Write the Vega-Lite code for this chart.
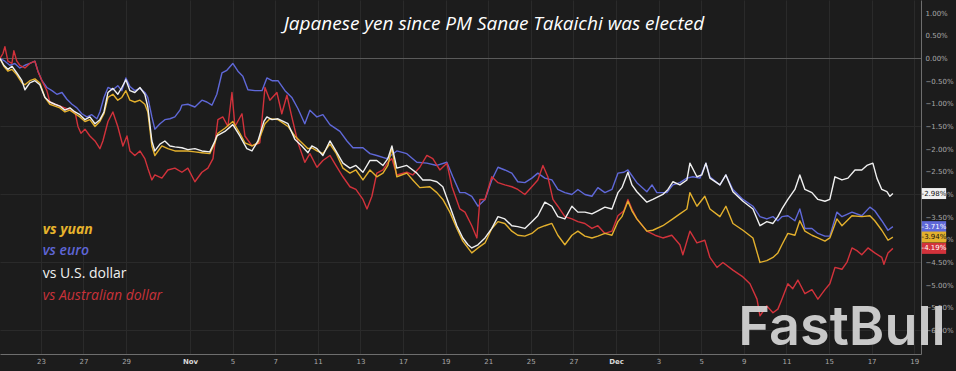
{
  "$schema": "https://vega.github.io/schema/vega-lite/v6.json",
  "width": 921,
  "height": 354,
  "autosize": {"type": "none"},
  "padding": {"left": 0, "top": 0, "right": 35, "bottom": 17},
  "background": "#1c1c1c",
  "config": {"view": {"stroke": null}},
  "datasets": {
    "series": [
      {"p":"euro","t":0.08,"v":0},{"p":"euro","t":0.31,"v":-0.06},{"p":"euro","t":0.54,"v":-0.15},{"p":"euro","t":0.78,"v":-0.11},{"p":"euro","t":1.01,"v":-0.21},{"p":"euro","t":1.25,"v":-0.15},{"p":"euro","t":1.48,"v":-0.11},{"p":"euro","t":1.72,"v":-0.06},{"p":"euro","t":1.86,"v":-0.28},{"p":"euro","t":2.05,"v":-0.49},{"p":"euro","t":2.28,"v":-0.64},{"p":"euro","t":2.52,"v":-0.71},{"p":"euro","t":2.75,"v":-0.79},{"p":"euro","t":2.99,"v":-0.75},{"p":"euro","t":3.22,"v":-0.90},{"p":"euro","t":3.46,"v":-1.01},{"p":"euro","t":3.69,"v":-1.09},{"p":"euro","t":3.92,"v":-1.22},{"p":"euro","t":4.16,"v":-1.29},{"p":"euro","t":4.39,"v":-1.24},{"p":"euro","t":4.63,"v":-1.33},{"p":"euro","t":4.77,"v":-1.18},{"p":"euro","t":4.96,"v":-0.86},{"p":"euro","t":5.15,"v":-0.64},{"p":"euro","t":5.38,"v":-0.69},{"p":"euro","t":5.61,"v":-0.60},{"p":"euro","t":5.80,"v":-0.71},{"p":"euro","t":5.99,"v":-0.43},{"p":"euro","t":6.18,"v":-0.62},{"p":"euro","t":6.41,"v":-0.71},{"p":"euro","t":6.65,"v":-0.66},{"p":"euro","t":6.88,"v":-0.75},{"p":"euro","t":7.02,"v":-0.86},{"p":"euro","t":7.21,"v":-1.29},{"p":"euro","t":7.35,"v":-1.56},{"p":"euro","t":7.59,"v":-1.44},{"p":"euro","t":7.82,"v":-1.35},{"p":"euro","t":8.06,"v":-1.33},{"p":"euro","t":8.29,"v":-1.29},{"p":"euro","t":8.53,"v":-1.14},{"p":"euro","t":8.62,"v":-1.03},{"p":"euro","t":8.90,"v":-1.01},{"p":"euro","t":9.23,"v":-1.07},{"p":"euro","t":9.56,"v":-0.92},{"p":"euro","t":9.79,"v":-0.96},{"p":"euro","t":10.03,"v":-1.03},{"p":"euro","t":10.26,"v":-0.79},{"p":"euro","t":10.50,"v":-0.32},{"p":"euro","t":10.73,"v":-0.26},{"p":"euro","t":11.01,"v":-0.11},{"p":"euro","t":11.25,"v":-0.28},{"p":"euro","t":11.48,"v":-0.39},{"p":"euro","t":11.72,"v":-0.69},{"p":"euro","t":12.05,"v":-0.71},{"p":"euro","t":12.38,"v":-0.71},{"p":"euro","t":12.61,"v":-0.43},{"p":"euro","t":12.85,"v":-0.49},{"p":"euro","t":13.13,"v":-0.49},{"p":"euro","t":13.46,"v":-0.71},{"p":"euro","t":13.78,"v":-0.86},{"p":"euro","t":14.07,"v":-1.11},{"p":"euro","t":14.39,"v":-1.44},{"p":"euro","t":14.63,"v":-1.14},{"p":"euro","t":14.96,"v":-1.29},{"p":"euro","t":15.24,"v":-1.24},{"p":"euro","t":15.57,"v":-1.46},{"p":"euro","t":16.04,"v":-1.61},{"p":"euro","t":16.37,"v":-1.82},{"p":"euro","t":16.65,"v":-1.97},{"p":"euro","t":17.12,"v":-1.97},{"p":"euro","t":17.45,"v":-2.10},{"p":"euro","t":17.77,"v":-2.14},{"p":"euro","t":18.24,"v":-2.21},{"p":"euro","t":18.71,"v":-2.04},{"p":"euro","t":19.18,"v":-2.10},{"p":"euro","t":19.65,"v":-2.29},{"p":"euro","t":20.12,"v":-2.31},{"p":"euro","t":20.59,"v":-2.36},{"p":"euro","t":21.06,"v":-2.29},{"p":"euro","t":21.34,"v":-2.61},{"p":"euro","t":21.67,"v":-2.96},{"p":"euro","t":21.91,"v":-2.96},{"p":"euro","t":22.23,"v":-3.04},{"p":"euro","t":22.52,"v":-3.26},{"p":"euro","t":22.85,"v":-3.11},{"p":"euro","t":23.17,"v":-2.68},{"p":"euro","t":23.46,"v":-2.40},{"p":"euro","t":23.78,"v":-2.46},{"p":"euro","t":24.11,"v":-2.53},{"p":"euro","t":24.39,"v":-2.72},{"p":"euro","t":24.72,"v":-2.74},{"p":"euro","t":25.05,"v":-2.64},{"p":"euro","t":25.33,"v":-2.53},{"p":"euro","t":25.66,"v":-2.64},{"p":"euro","t":25.99,"v":-2.68},{"p":"euro","t":26.27,"v":-2.89},{"p":"euro","t":26.60,"v":-2.96},{"p":"euro","t":26.93,"v":-3.00},{"p":"euro","t":27.21,"v":-2.89},{"p":"euro","t":27.54,"v":-3.00},{"p":"euro","t":27.87,"v":-3.04},{"p":"euro","t":28.15,"v":-2.85},{"p":"euro","t":28.48,"v":-2.96},{"p":"euro","t":28.81,"v":-2.89},{"p":"euro","t":29.09,"v":-2.53},{"p":"euro","t":29.37,"v":-2.51},{"p":"euro","t":29.56,"v":-2.46},{"p":"euro","t":29.98,"v":-2.74},{"p":"euro","t":30.45,"v":-2.94},{"p":"euro","t":30.69,"v":-2.79},{"p":"euro","t":30.92,"v":-2.96},{"p":"euro","t":31.39,"v":-2.96},{"p":"euro","t":31.67,"v":-2.79},{"p":"euro","t":32.00,"v":-2.74},{"p":"euro","t":32.33,"v":-2.64},{"p":"euro","t":32.61,"v":-2.61},{"p":"euro","t":32.94,"v":-2.64},{"p":"euro","t":33.22,"v":-2.31},{"p":"euro","t":33.41,"v":-2.61},{"p":"euro","t":33.88,"v":-2.79},{"p":"euro","t":34.16,"v":-2.57},{"p":"euro","t":34.49,"v":-2.89},{"p":"euro","t":34.96,"v":-3.11},{"p":"euro","t":35.43,"v":-3.26},{"p":"euro","t":35.76,"v":-3.49},{"p":"euro","t":36.08,"v":-3.54},{"p":"euro","t":36.37,"v":-3.49},{"p":"euro","t":36.60,"v":-3.58},{"p":"euro","t":36.79,"v":-3.49},{"p":"euro","t":37.07,"v":-3.47},{"p":"euro","t":37.40,"v":-3.58},{"p":"euro","t":37.63,"v":-3.32},{"p":"euro","t":37.87,"v":-3.75},{"p":"euro","t":38.20,"v":-3.75},{"p":"euro","t":38.48,"v":-3.86},{"p":"euro","t":38.81,"v":-3.92},{"p":"euro","t":39.04,"v":-3.92},{"p":"euro","t":39.37,"v":-3.39},{"p":"euro","t":39.61,"v":-3.49},{"p":"euro","t":40.08,"v":-3.39},{"p":"euro","t":40.54,"v":-3.47},{"p":"euro","t":40.92,"v":-3.28},{"p":"euro","t":41.15,"v":-3.36},{"p":"euro","t":41.48,"v":-3.58},{"p":"euro","t":41.77,"v":-3.79},{"p":"euro","t":42.00,"v":-3.71},

      {"p":"aud","t":0.08,"v":0},{"p":"aud","t":0.22,"v":0.11},{"p":"aud","t":0.31,"v":0.26},{"p":"aud","t":0.45,"v":-0.06},{"p":"aud","t":0.64,"v":-0.11},{"p":"aud","t":0.73,"v":0.17},{"p":"aud","t":0.87,"v":-0.06},{"p":"aud","t":1.01,"v":-0.15},{"p":"aud","t":1.25,"v":-0.21},{"p":"aud","t":1.48,"v":-0.11},{"p":"aud","t":1.72,"v":-0.06},{"p":"aud","t":1.86,"v":-0.28},{"p":"aud","t":2.05,"v":-0.49},{"p":"aud","t":2.28,"v":-0.71},{"p":"aud","t":2.42,"v":-0.96},{"p":"aud","t":2.66,"v":-1.01},{"p":"aud","t":2.89,"v":-1.05},{"p":"aud","t":3.13,"v":-1.09},{"p":"aud","t":3.36,"v":-1.14},{"p":"aud","t":3.60,"v":-1.18},{"p":"aud","t":3.74,"v":-1.50},{"p":"aud","t":3.88,"v":-1.65},{"p":"aud","t":4.07,"v":-1.56},{"p":"aud","t":4.30,"v":-1.71},{"p":"aud","t":4.54,"v":-1.82},{"p":"aud","t":4.77,"v":-1.99},{"p":"aud","t":4.91,"v":-1.82},{"p":"aud","t":5.15,"v":-1.39},{"p":"aud","t":5.38,"v":-1.18},{"p":"aud","t":5.61,"v":-1.50},{"p":"aud","t":5.85,"v":-1.93},{"p":"aud","t":6.04,"v":-1.71},{"p":"aud","t":6.18,"v":-2.04},{"p":"aud","t":6.41,"v":-2.14},{"p":"aud","t":6.65,"v":-2.04},{"p":"aud","t":6.88,"v":-2.21},{"p":"aud","t":7.02,"v":-2.42},{"p":"aud","t":7.21,"v":-2.68},{"p":"aud","t":7.35,"v":-2.57},{"p":"aud","t":7.68,"v":-2.64},{"p":"aud","t":7.96,"v":-2.46},{"p":"aud","t":8.29,"v":-2.42},{"p":"aud","t":8.62,"v":-2.51},{"p":"aud","t":8.90,"v":-2.42},{"p":"aud","t":9.23,"v":-2.72},{"p":"aud","t":9.56,"v":-2.51},{"p":"aud","t":9.84,"v":-2.42},{"p":"aud","t":10.08,"v":-2.21},{"p":"aud","t":10.31,"v":-1.35},{"p":"aud","t":10.54,"v":-1.29},{"p":"aud","t":10.78,"v":-1.50},{"p":"aud","t":10.97,"v":-0.75},{"p":"aud","t":11.11,"v":-1.50},{"p":"aud","t":11.44,"v":-1.22},{"p":"aud","t":11.58,"v":-1.71},{"p":"aud","t":11.91,"v":-1.93},{"p":"aud","t":12.28,"v":-1.86},{"p":"aud","t":12.52,"v":-0.64},{"p":"aud","t":12.75,"v":-0.92},{"p":"aud","t":13.08,"v":-0.75},{"p":"aud","t":13.31,"v":-1.22},{"p":"aud","t":13.55,"v":-0.81},{"p":"aud","t":13.78,"v":-1.29},{"p":"aud","t":14.07,"v":-1.86},{"p":"aud","t":14.39,"v":-2.29},{"p":"aud","t":14.63,"v":-2.10},{"p":"aud","t":14.96,"v":-2.40},{"p":"aud","t":15.24,"v":-2.25},{"p":"aud","t":15.57,"v":-2.14},{"p":"aud","t":15.85,"v":-2.36},{"p":"aud","t":16.18,"v":-2.61},{"p":"aud","t":16.51,"v":-2.83},{"p":"aud","t":16.79,"v":-2.89},{"p":"aud","t":17.12,"v":-3.11},{"p":"aud","t":17.31,"v":-3.32},{"p":"aud","t":17.54,"v":-3.04},{"p":"aud","t":17.77,"v":-2.53},{"p":"aud","t":18.06,"v":-2.46},{"p":"aud","t":18.29,"v":-2.29},{"p":"aud","t":18.48,"v":-2.21},{"p":"aud","t":18.71,"v":-2.57},{"p":"aud","t":19.18,"v":-2.51},{"p":"aud","t":19.46,"v":-2.57},{"p":"aud","t":19.79,"v":-2.40},{"p":"aud","t":20.12,"v":-2.14},{"p":"aud","t":20.40,"v":-2.21},{"p":"aud","t":20.73,"v":-2.46},{"p":"aud","t":21.06,"v":-2.31},{"p":"aud","t":21.30,"v":-2.83},{"p":"aud","t":21.67,"v":-3.32},{"p":"aud","t":21.91,"v":-3.39},{"p":"aud","t":22.23,"v":-3.69},{"p":"aud","t":22.47,"v":-3.96},{"p":"aud","t":22.61,"v":-3.11},{"p":"aud","t":22.85,"v":-3.11},{"p":"aud","t":23.17,"v":-2.61},{"p":"aud","t":23.46,"v":-2.74},{"p":"aud","t":23.78,"v":-2.79},{"p":"aud","t":24.11,"v":-2.83},{"p":"aud","t":24.39,"v":-2.89},{"p":"aud","t":24.72,"v":-3.00},{"p":"aud","t":25.05,"v":-2.83},{"p":"aud","t":25.33,"v":-2.68},{"p":"aud","t":25.57,"v":-2.36},{"p":"aud","t":25.80,"v":-2.61},{"p":"aud","t":26.04,"v":-3.11},{"p":"aud","t":26.27,"v":-3.26},{"p":"aud","t":26.60,"v":-3.49},{"p":"aud","t":26.93,"v":-3.54},{"p":"aud","t":27.21,"v":-3.60},{"p":"aud","t":27.54,"v":-3.64},{"p":"aud","t":27.87,"v":-3.75},{"p":"aud","t":28.15,"v":-3.69},{"p":"aud","t":28.48,"v":-3.86},{"p":"aud","t":28.81,"v":-3.81},{"p":"aud","t":29.09,"v":-3.47},{"p":"aud","t":29.37,"v":-3.36},{"p":"aud","t":29.56,"v":-3.11},{"p":"aud","t":29.75,"v":-3.32},{"p":"aud","t":29.98,"v":-3.54},{"p":"aud","t":30.45,"v":-3.81},{"p":"aud","t":30.83,"v":-3.90},{"p":"aud","t":31.20,"v":-3.96},{"p":"aud","t":31.62,"v":-3.90},{"p":"aud","t":32.00,"v":-4.11},{"p":"aud","t":32.14,"v":-4.33},{"p":"aud","t":32.47,"v":-3.81},{"p":"aud","t":32.80,"v":-4.07},{"p":"aud","t":33.17,"v":-4.01},{"p":"aud","t":33.41,"v":-4.39},{"p":"aud","t":33.74,"v":-4.61},{"p":"aud","t":34.02,"v":-4.50},{"p":"aud","t":34.49,"v":-4.67},{"p":"aud","t":34.96,"v":-4.82},{"p":"aud","t":35.29,"v":-4.97},{"p":"aud","t":35.62,"v":-5.31},{"p":"aud","t":35.76,"v":-5.68},{"p":"aud","t":36.08,"v":-5.46},{"p":"aud","t":36.37,"v":-5.61},{"p":"aud","t":36.60,"v":-5.53},{"p":"aud","t":36.79,"v":-5.31},{"p":"aud","t":37.07,"v":-4.97},{"p":"aud","t":37.30,"v":-5.08},{"p":"aud","t":37.54,"v":-4.89},{"p":"aud","t":37.87,"v":-5.19},{"p":"aud","t":38.20,"v":-5.10},{"p":"aud","t":38.48,"v":-5.31},{"p":"aud","t":38.81,"v":-5.10},{"p":"aud","t":39.04,"v":-4.97},{"p":"aud","t":39.28,"v":-4.61},{"p":"aud","t":39.61,"v":-4.65},{"p":"aud","t":39.84,"v":-4.50},{"p":"aud","t":40.08,"v":-4.18},{"p":"aud","t":40.31,"v":-4.24},{"p":"aud","t":40.54,"v":-4.33},{"p":"aud","t":40.83,"v":-4.18},{"p":"aud","t":41.15,"v":-4.29},{"p":"aud","t":41.48,"v":-4.39},{"p":"aud","t":41.58,"v":-4.54},{"p":"aud","t":41.77,"v":-4.29},{"p":"aud","t":42.00,"v":-4.19},

      {"p":"yuan","t":0.08,"v":0},{"p":"yuan","t":0.26,"v":-0.17},{"p":"yuan","t":0.45,"v":-0.28},{"p":"yuan","t":0.64,"v":-0.24},{"p":"yuan","t":0.87,"v":-0.36},{"p":"yuan","t":1.11,"v":-0.54},{"p":"yuan","t":1.25,"v":-0.58},{"p":"yuan","t":1.48,"v":-0.49},{"p":"yuan","t":1.72,"v":-0.45},{"p":"yuan","t":1.95,"v":-0.54},{"p":"yuan","t":2.19,"v":-0.86},{"p":"yuan","t":2.42,"v":-1.01},{"p":"yuan","t":2.66,"v":-1.05},{"p":"yuan","t":2.89,"v":-1.09},{"p":"yuan","t":3.13,"v":-1.18},{"p":"yuan","t":3.36,"v":-1.14},{"p":"yuan","t":3.60,"v":-1.22},{"p":"yuan","t":3.83,"v":-1.29},{"p":"yuan","t":4.07,"v":-1.39},{"p":"yuan","t":4.30,"v":-1.35},{"p":"yuan","t":4.54,"v":-1.50},{"p":"yuan","t":4.77,"v":-1.39},{"p":"yuan","t":4.96,"v":-1.22},{"p":"yuan","t":5.15,"v":-0.86},{"p":"yuan","t":5.38,"v":-0.79},{"p":"yuan","t":5.61,"v":-0.92},{"p":"yuan","t":5.80,"v":-0.86},{"p":"yuan","t":5.99,"v":-0.71},{"p":"yuan","t":6.18,"v":-0.92},{"p":"yuan","t":6.41,"v":-0.96},{"p":"yuan","t":6.65,"v":-0.92},{"p":"yuan","t":6.88,"v":-1.01},{"p":"yuan","t":7.02,"v":-1.18},{"p":"yuan","t":7.21,"v":-1.93},{"p":"yuan","t":7.35,"v":-2.14},{"p":"yuan","t":7.68,"v":-1.93},{"p":"yuan","t":7.96,"v":-1.99},{"p":"yuan","t":8.29,"v":-2.04},{"p":"yuan","t":8.90,"v":-2.04},{"p":"yuan","t":9.23,"v":-2.06},{"p":"yuan","t":9.56,"v":-2.08},{"p":"yuan","t":9.93,"v":-2.10},{"p":"yuan","t":10.17,"v":-1.86},{"p":"yuan","t":10.31,"v":-1.65},{"p":"yuan","t":10.64,"v":-1.54},{"p":"yuan","t":11.01,"v":-1.39},{"p":"yuan","t":11.34,"v":-1.65},{"p":"yuan","t":11.58,"v":-1.86},{"p":"yuan","t":11.91,"v":-1.93},{"p":"yuan","t":12.19,"v":-1.86},{"p":"yuan","t":12.52,"v":-1.44},{"p":"yuan","t":12.75,"v":-1.33},{"p":"yuan","t":13.13,"v":-1.35},{"p":"yuan","t":13.60,"v":-1.50},{"p":"yuan","t":13.92,"v":-1.71},{"p":"yuan","t":14.25,"v":-1.86},{"p":"yuan","t":14.54,"v":-1.99},{"p":"yuan","t":14.72,"v":-1.97},{"p":"yuan","t":14.96,"v":-2.04},{"p":"yuan","t":15.24,"v":-2.10},{"p":"yuan","t":15.57,"v":-1.89},{"p":"yuan","t":15.85,"v":-2.08},{"p":"yuan","t":16.18,"v":-2.42},{"p":"yuan","t":16.51,"v":-2.53},{"p":"yuan","t":16.79,"v":-2.46},{"p":"yuan","t":17.12,"v":-2.68},{"p":"yuan","t":17.45,"v":-2.46},{"p":"yuan","t":17.77,"v":-2.61},{"p":"yuan","t":18.06,"v":-2.53},{"p":"yuan","t":18.29,"v":-2.36},{"p":"yuan","t":18.48,"v":-1.97},{"p":"yuan","t":18.71,"v":-2.61},{"p":"yuan","t":19.18,"v":-2.53},{"p":"yuan","t":19.46,"v":-2.68},{"p":"yuan","t":19.79,"v":-2.85},{"p":"yuan","t":20.26,"v":-2.83},{"p":"yuan","t":20.59,"v":-2.96},{"p":"yuan","t":20.87,"v":-3.11},{"p":"yuan","t":21.20,"v":-3.39},{"p":"yuan","t":21.53,"v":-3.75},{"p":"yuan","t":21.81,"v":-4.03},{"p":"yuan","t":22.05,"v":-4.18},{"p":"yuan","t":22.23,"v":-4.29},{"p":"yuan","t":22.52,"v":-4.18},{"p":"yuan","t":22.85,"v":-4.07},{"p":"yuan","t":23.17,"v":-3.75},{"p":"yuan","t":23.46,"v":-3.60},{"p":"yuan","t":23.78,"v":-3.64},{"p":"yuan","t":24.11,"v":-3.81},{"p":"yuan","t":24.39,"v":-3.90},{"p":"yuan","t":24.72,"v":-3.92},{"p":"yuan","t":25.05,"v":-3.86},{"p":"yuan","t":25.33,"v":-3.75},{"p":"yuan","t":25.66,"v":-3.69},{"p":"yuan","t":25.99,"v":-3.64},{"p":"yuan","t":26.27,"v":-3.90},{"p":"yuan","t":26.60,"v":-4.11},{"p":"yuan","t":26.93,"v":-3.90},{"p":"yuan","t":27.21,"v":-3.81},{"p":"yuan","t":27.54,"v":-3.92},{"p":"yuan","t":27.87,"v":-3.96},{"p":"yuan","t":28.15,"v":-3.92},{"p":"yuan","t":28.48,"v":-3.86},{"p":"yuan","t":28.81,"v":-3.90},{"p":"yuan","t":29.09,"v":-3.60},{"p":"yuan","t":29.28,"v":-3.49},{"p":"yuan","t":29.56,"v":-3.15},{"p":"yuan","t":29.75,"v":-3.36},{"p":"yuan","t":29.98,"v":-3.54},{"p":"yuan","t":30.45,"v":-3.81},{"p":"yuan","t":30.73,"v":-3.79},{"p":"yuan","t":31.20,"v":-3.69},{"p":"yuan","t":31.67,"v":-3.54},{"p":"yuan","t":32.00,"v":-3.43},{"p":"yuan","t":32.33,"v":-3.32},{"p":"yuan","t":32.47,"v":-2.96},{"p":"yuan","t":32.80,"v":-3.26},{"p":"yuan","t":33.17,"v":-3.04},{"p":"yuan","t":33.41,"v":-3.32},{"p":"yuan","t":33.88,"v":-3.49},{"p":"yuan","t":34.16,"v":-3.26},{"p":"yuan","t":34.49,"v":-3.64},{"p":"yuan","t":34.96,"v":-3.79},{"p":"yuan","t":35.43,"v":-3.96},{"p":"yuan","t":35.76,"v":-4.50},{"p":"yuan","t":36.08,"v":-4.46},{"p":"yuan","t":36.37,"v":-4.39},{"p":"yuan","t":36.60,"v":-4.29},{"p":"yuan","t":36.79,"v":-4.11},{"p":"yuan","t":37.07,"v":-3.86},{"p":"yuan","t":37.40,"v":-3.90},{"p":"yuan","t":37.63,"v":-3.58},{"p":"yuan","t":37.87,"v":-3.81},{"p":"yuan","t":38.20,"v":-3.90},{"p":"yuan","t":38.48,"v":-3.96},{"p":"yuan","t":38.81,"v":-4.03},{"p":"yuan","t":39.04,"v":-3.96},{"p":"yuan","t":39.37,"v":-3.54},{"p":"yuan","t":39.61,"v":-3.69},{"p":"yuan","t":40.08,"v":-3.47},{"p":"yuan","t":40.54,"v":-3.49},{"p":"yuan","t":40.92,"v":-3.47},{"p":"yuan","t":41.15,"v":-3.58},{"p":"yuan","t":41.48,"v":-3.79},{"p":"yuan","t":41.77,"v":-4.01},{"p":"yuan","t":42.00,"v":-3.94},

      {"p":"usd","t":0.08,"v":0},{"p":"usd","t":0.26,"v":-0.15},{"p":"usd","t":0.45,"v":-0.24},{"p":"usd","t":0.64,"v":-0.17},{"p":"usd","t":0.87,"v":-0.32},{"p":"usd","t":1.11,"v":-0.49},{"p":"usd","t":1.25,"v":-0.69},{"p":"usd","t":1.48,"v":-0.54},{"p":"usd","t":1.72,"v":-0.49},{"p":"usd","t":1.95,"v":-0.58},{"p":"usd","t":2.19,"v":-0.86},{"p":"usd","t":2.42,"v":-0.96},{"p":"usd","t":2.66,"v":-1.01},{"p":"usd","t":2.89,"v":-1.05},{"p":"usd","t":3.13,"v":-1.14},{"p":"usd","t":3.36,"v":-1.09},{"p":"usd","t":3.60,"v":-1.18},{"p":"usd","t":3.83,"v":-1.24},{"p":"usd","t":4.07,"v":-1.35},{"p":"usd","t":4.30,"v":-1.29},{"p":"usd","t":4.54,"v":-1.44},{"p":"usd","t":4.77,"v":-1.35},{"p":"usd","t":4.96,"v":-1.18},{"p":"usd","t":5.15,"v":-0.75},{"p":"usd","t":5.38,"v":-0.66},{"p":"usd","t":5.61,"v":-0.79},{"p":"usd","t":5.80,"v":-0.64},{"p":"usd","t":5.99,"v":-0.47},{"p":"usd","t":6.18,"v":-0.71},{"p":"usd","t":6.41,"v":-0.75},{"p":"usd","t":6.65,"v":-0.64},{"p":"usd","t":6.88,"v":-0.79},{"p":"usd","t":7.02,"v":-1.07},{"p":"usd","t":7.21,"v":-1.82},{"p":"usd","t":7.35,"v":-2.04},{"p":"usd","t":7.59,"v":-1.89},{"p":"usd","t":7.82,"v":-1.82},{"p":"usd","t":8.06,"v":-1.93},{"p":"usd","t":8.29,"v":-1.95},{"p":"usd","t":8.62,"v":-1.97},{"p":"usd","t":8.90,"v":-2.01},{"p":"usd","t":9.23,"v":-1.99},{"p":"usd","t":9.56,"v":-2.04},{"p":"usd","t":9.93,"v":-2.06},{"p":"usd","t":10.17,"v":-1.82},{"p":"usd","t":10.26,"v":-1.71},{"p":"usd","t":10.64,"v":-1.61},{"p":"usd","t":11.01,"v":-1.46},{"p":"usd","t":11.34,"v":-1.71},{"p":"usd","t":11.67,"v":-1.99},{"p":"usd","t":11.91,"v":-2.04},{"p":"usd","t":12.19,"v":-1.82},{"p":"usd","t":12.47,"v":-1.39},{"p":"usd","t":12.61,"v":-1.29},{"p":"usd","t":12.85,"v":-1.35},{"p":"usd","t":13.13,"v":-1.33},{"p":"usd","t":13.60,"v":-1.44},{"p":"usd","t":13.92,"v":-1.78},{"p":"usd","t":14.25,"v":-1.93},{"p":"usd","t":14.54,"v":-2.08},{"p":"usd","t":14.72,"v":-1.93},{"p":"usd","t":14.96,"v":-1.99},{"p":"usd","t":15.24,"v":-2.14},{"p":"usd","t":15.57,"v":-1.82},{"p":"usd","t":15.85,"v":-2.04},{"p":"usd","t":16.18,"v":-2.31},{"p":"usd","t":16.51,"v":-2.42},{"p":"usd","t":16.79,"v":-2.36},{"p":"usd","t":17.12,"v":-2.51},{"p":"usd","t":17.45,"v":-2.25},{"p":"usd","t":17.77,"v":-2.25},{"p":"usd","t":18.06,"v":-2.36},{"p":"usd","t":18.29,"v":-2.21},{"p":"usd","t":18.48,"v":-1.93},{"p":"usd","t":18.71,"v":-2.42},{"p":"usd","t":19.18,"v":-2.36},{"p":"usd","t":19.65,"v":-2.53},{"p":"usd","t":19.93,"v":-2.68},{"p":"usd","t":20.26,"v":-2.68},{"p":"usd","t":20.59,"v":-2.72},{"p":"usd","t":20.87,"v":-2.83},{"p":"usd","t":21.20,"v":-3.26},{"p":"usd","t":21.53,"v":-3.69},{"p":"usd","t":21.81,"v":-3.96},{"p":"usd","t":22.05,"v":-4.11},{"p":"usd","t":22.23,"v":-4.18},{"p":"usd","t":22.52,"v":-4.11},{"p":"usd","t":22.85,"v":-3.96},{"p":"usd","t":23.17,"v":-3.75},{"p":"usd","t":23.46,"v":-3.49},{"p":"usd","t":23.78,"v":-3.54},{"p":"usd","t":24.11,"v":-3.69},{"p":"usd","t":24.39,"v":-3.71},{"p":"usd","t":24.72,"v":-3.75},{"p":"usd","t":25.05,"v":-3.60},{"p":"usd","t":25.33,"v":-3.47},{"p":"usd","t":25.66,"v":-3.17},{"p":"usd","t":25.99,"v":-3.26},{"p":"usd","t":26.27,"v":-3.49},{"p":"usd","t":26.60,"v":-3.54},{"p":"usd","t":26.93,"v":-3.26},{"p":"usd","t":27.21,"v":-3.39},{"p":"usd","t":27.54,"v":-3.39},{"p":"usd","t":27.87,"v":-3.43},{"p":"usd","t":28.15,"v":-3.36},{"p":"usd","t":28.48,"v":-3.28},{"p":"usd","t":28.81,"v":-3.32},{"p":"usd","t":29.09,"v":-2.96},{"p":"usd","t":29.28,"v":-2.85},{"p":"usd","t":29.56,"v":-2.51},{"p":"usd","t":29.75,"v":-2.79},{"p":"usd","t":29.98,"v":-2.94},{"p":"usd","t":30.45,"v":-3.17},{"p":"usd","t":30.73,"v":-3.11},{"p":"usd","t":31.20,"v":-3.00},{"p":"usd","t":31.44,"v":-2.89},{"p":"usd","t":31.67,"v":-2.72},{"p":"usd","t":32.00,"v":-2.79},{"p":"usd","t":32.33,"v":-2.68},{"p":"usd","t":32.47,"v":-2.31},{"p":"usd","t":32.80,"v":-2.61},{"p":"usd","t":33.03,"v":-2.57},{"p":"usd","t":33.22,"v":-2.31},{"p":"usd","t":33.41,"v":-2.64},{"p":"usd","t":33.88,"v":-2.79},{"p":"usd","t":34.16,"v":-2.57},{"p":"usd","t":34.49,"v":-2.94},{"p":"usd","t":34.96,"v":-3.15},{"p":"usd","t":35.43,"v":-3.32},{"p":"usd","t":35.76,"v":-3.69},{"p":"usd","t":36.08,"v":-3.60},{"p":"usd","t":36.37,"v":-3.64},{"p":"usd","t":36.60,"v":-3.49},{"p":"usd","t":36.79,"v":-3.32},{"p":"usd","t":37.07,"v":-3.11},{"p":"usd","t":37.40,"v":-2.89},{"p":"usd","t":37.63,"v":-2.57},{"p":"usd","t":37.87,"v":-2.89},{"p":"usd","t":38.20,"v":-2.96},{"p":"usd","t":38.48,"v":-3.11},{"p":"usd","t":38.81,"v":-3.15},{"p":"usd","t":39.04,"v":-3.11},{"p":"usd","t":39.28,"v":-2.61},{"p":"usd","t":39.61,"v":-2.68},{"p":"usd","t":39.89,"v":-2.64},{"p":"usd","t":40.22,"v":-2.46},{"p":"usd","t":40.54,"v":-2.46},{"p":"usd","t":40.78,"v":-2.36},{"p":"usd","t":41.06,"v":-2.31},{"p":"usd","t":41.25,"v":-2.64},{"p":"usd","t":41.48,"v":-2.89},{"p":"usd","t":41.72,"v":-2.94},{"p":"usd","t":41.86,"v":-3.04},{"p":"usd","t":42.00,"v":-2.98}
    ],
    "badges": [
      {"p":"usd","last":-2.98,"lab":"-2.98%"},
      {"p":"euro","last":-3.71,"lab":"-3.71%"},
      {"p":"yuan","last":-3.94,"lab":"-3.94%"},
      {"p":"aud","last":-4.19,"lab":"-4.19%"}
    ]
  },
  "layer": [
    {
      "data": {"name": "series"},
      "mark": {"type": "line", "strokeWidth": 1.4, "strokeJoin": "round", "clip": true},
      "encoding": {
        "x": {
          "field": "t", "type": "quantitative", "title": null,
          "scale": {"domain": [0.08, 43.32], "nice": false, "zero": false},
          "axis": {
            "orient": "bottom",
            "values": [2,4,6,9,11,13,15,17,19,21,23,25,27,29,31,33,35,37,39,41,43],
            "labelExpr": "['23','27','29','Nov','5','7','11','13','17','19','21','25','27','Dec','3','5','9','11','15','17','19'][indexof([2,4,6,9,11,13,15,17,19,21,23,25,27,29,31,33,35,37,39,41,43], datum.value)]",
            "labelFont": "DejaVu Sans",
            "labelFontSize": 7,
            "labelColor": {"condition": {"test": "datum.value == 9 || datum.value == 29", "value": "#d8d8d8"}, "value": "#a8a8a8"},
            "labelFontWeight": {"condition": {"test": "datum.value == 9 || datum.value == 29", "value": "bold"}, "value": "normal"},
            "labelPadding": 3,
            "ticks": false,
            "grid": true,
            "gridColor": "#2a2a2a",
            "gridWidth": 1,
            "domain": true,
            "domainColor": "#6e6e6e",
            "labelOverlap": false,
            "zindex": 0
          }
        },
        "y": {
          "field": "v", "type": "quantitative", "title": null,
          "scale": {"domain": [-6.41, 1.18], "nice": false, "zero": false},
          "axis": {
            "orient": "right",
            "values": [1,0.5,0,-0.5,-1,-1.5,-2,-2.5,-3,-3.5,-4,-4.5,-5,-5.5,-6],
            "tickCount": 15,
            "labelExpr": "format(datum.value, '.2f') + '%'",
            "labelFont": "DejaVu Sans",
            "labelFontSize": 7,
            "labelColor": "#a8a8a8",
            "labelPadding": 4,
            "ticks": false,
            "grid": true,
            "gridColor": {"condition": {"test": "datum.value == 0", "value": "#5a5a5a"}, "value": "#2a2a2a"},
            "gridOpacity": {"condition": {"test": "datum.value % 1.5 == 0", "value": 1}, "value": 0},
            "domain": true,
            "domainColor": "#6e6e6e",
            "labelOverlap": false,
            "labelBound": false,
            "zindex": 0
          }
        },
        "color": {
          "field": "p", "type": "nominal", "legend": null,
          "scale": {"domain": ["euro","aud","yuan","usd"], "range": ["#5f68d8","#d2323b","#e3b02d","#f0f0f0"]}
        }
      }
    },
    {
      "data": {"name": "badges"},
      "mark": {"type": "bar", "orient": "horizontal", "size": 11},
      "encoding": {
        "x": {"datum": 43.36, "type": "quantitative", "title": null},
        "x2": {"datum": 44.5},
        "y": {"field": "last", "type": "quantitative", "title": null, "axis": {"values": [1,0.5,0,-0.5,-1,-1.5,-2,-2.5,-3,-3.5,-4,-4.5,-5,-5.5,-6], "tickCount": 15}},
        "color": {"field": "p", "type": "nominal", "legend": null}
      }
    },
    {
      "data": {"name": "badges"},
      "mark": {"type": "text", "font": "DejaVu Sans", "fontSize": 7, "align": "center", "baseline": "middle"},
      "encoding": {
        "x": {"datum": 43.93, "type": "quantitative", "title": null},
        "y": {"field": "last", "type": "quantitative", "title": null, "axis": {"values": [1,0.5,0,-0.5,-1,-1.5,-2,-2.5,-3,-3.5,-4,-4.5,-5,-5.5,-6], "tickCount": 15}},
        "text": {"field": "lab"},
        "color": {"condition": {"test": "datum.p == 'usd' || datum.p == 'yuan'", "value": "#111111"}, "value": "#ffffff"}
      }
    },
    {
      "data": {"values": [{"txt": "Japanese yen since PM Sanae Takaichi was elected"}]},
      "mark": {"type": "text", "font": "Open Sans", "fontStyle": "italic", "fontSize": 19, "color": "#ffffff", "align": "center", "baseline": "middle"},
      "encoding": {
        "x": {"datum": 23.27, "type": "quantitative", "title": null},
        "y": {"datum": 0.75, "type": "quantitative", "title": null},
        "text": {"field": "txt"}
      }
    },
    {
      "data": {"values": [{"txt": "vs yuan"}]},
      "mark": {"type": "text", "font": "Open Sans", "fontStyle": "italic", "fontWeight": "bold", "fontSize": 14, "color": "#e6b32c", "align": "left", "baseline": "middle"},
      "encoding": {
        "x": {"datum": 2.09, "type": "quantitative", "title": null},
        "y": {"datum": -3.79, "type": "quantitative", "title": null},
        "text": {"field": "txt"}
      }
    },
    {
      "data": {"values": [{"txt": "vs euro"}]},
      "mark": {"type": "text", "font": "Open Sans", "fontStyle": "italic", "fontWeight": 600, "fontSize": 14, "color": "#5f66d6", "align": "left", "baseline": "middle"},
      "encoding": {
        "x": {"datum": 2.09, "type": "quantitative", "title": null},
        "y": {"datum": -4.24, "type": "quantitative", "title": null},
        "text": {"field": "txt"}
      }
    },
    {
      "data": {"values": [{"txt": "vs U.S. dollar"}]},
      "mark": {"type": "text", "font": "Open Sans", "fontSize": 14, "color": "#f0f0f0", "align": "left", "baseline": "middle"},
      "encoding": {
        "x": {"datum": 2.09, "type": "quantitative", "title": null},
        "y": {"datum": -4.76, "type": "quantitative", "title": null},
        "text": {"field": "txt"}
      }
    },
    {
      "data": {"values": [{"txt": "vs Australian dollar"}]},
      "mark": {"type": "text", "font": "Open Sans", "fontStyle": "italic", "fontSize": 14, "color": "#c8323a", "align": "left", "baseline": "middle"},
      "encoding": {
        "x": {"datum": 2.09, "type": "quantitative", "title": null},
        "y": {"datum": -5.23, "type": "quantitative", "title": null},
        "text": {"field": "txt"}
      }
    },
    {
      "data": {"values": [{"txt": "FastBull"}]},
      "mark": {"type": "text", "font": "Inter", "fontWeight": 600, "fontSize": 54, "color": "#d2d2d2", "opacity": 0.95, "align": "center", "baseline": "alphabetic"},
      "encoding": {
        "x": {"datum": 39.61, "type": "quantitative", "title": null},
        "y": {"datum": -6.32, "type": "quantitative", "title": null},
        "text": {"field": "txt"}
      }
    }
  ]
}
